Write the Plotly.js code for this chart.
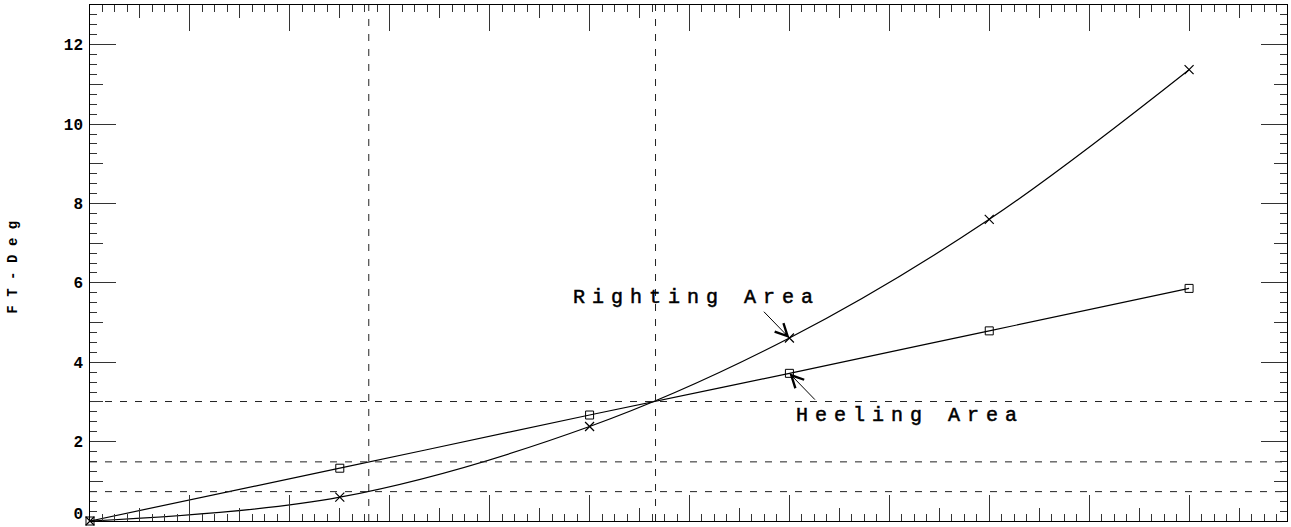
<!DOCTYPE html>
<html>
<head>
<meta charset="utf-8">
<script src="https://cdn.plot.ly/plotly-3.0.1.min.js"></script>
<style>
  html, body { margin: 0; padding: 0; background: #fff; }
  #chart { width: 1291px; height: 527px; }
  .ytick text { letter-spacing: 7px; }
  .ytitle { letter-spacing: 8.5px; }
  .annotation-text { letter-spacing: 7px; stroke: #000; stroke-width: 0.5px; }
</style>
</head>
<body>
<div id="chart"></div>
<script>
// Heel angle stations and the cumulative areas under each arm curve
const heelAngles   = [0, 25, 50, 70, 90, 110];
const rightingArea = [0, 0.60, 2.38, 4.61, 7.60, 11.37];
const heelingArea  = [0, 1.33, 2.67, 3.72, 4.79, 5.86];

// Dashed guide levels
const areaGuides  = [3.01, 1.49, 0.74];
const angleGuides = [27.9, 56.6];

// Y tick labels and where they sit (the bottom one is lifted off the frame)
const yLabelPos  = [0.2, 2, 4, 6, 8, 10, 12];
const yTickText  = ['0', '2', '4', '6', '8', '10', '12'];

const labelFont = { family: 'Liberation Mono, monospace', size: 20, color: '#000' };
const xRange = [0, 119.8];
const yRange = [0, 13];
const dashStyle = '7px,8px';

const traces = [
  {
    x: heelAngles, y: rightingArea, type: 'scatter', mode: 'lines+markers',
    name: 'Righting Area',
    line: { color: '#000', width: 1.2, shape: 'spline', smoothing: 1 },
    marker: { symbol: 'x-thin-open', size: 9, color: '#000', line: { color: '#000', width: 1.2 } },
    cliponaxis: false
  },
  {
    x: heelAngles, y: heelingArea, type: 'scatter', mode: 'lines+markers',
    name: 'Heeling Area',
    line: { color: '#000', width: 1.2, shape: 'spline', smoothing: 1 },
    marker: { symbol: 'square-open', size: 8, color: '#000', line: { color: '#000', width: 1 } },
    cliponaxis: false
  }
];

// Guide lines live on the overlaying axes so those axes are drawn
areaGuides.forEach(v => traces.push({
  x: xRange, y: [v, v], type: 'scatter', mode: 'lines', xaxis: 'x2', yaxis: 'y3',
  line: { color: '#222', width: 1, dash: dashStyle }, hoverinfo: 'skip', showlegend: false
}));
angleGuides.forEach(v => traces.push({
  x: [v, v], y: yRange, type: 'scatter', mode: 'lines', xaxis: 'x2', yaxis: 'y2',
  line: { color: '#222', width: 1, dash: dashStyle }, hoverinfo: 'skip', showlegend: false
}));

const tickColor = '#333';
const tickFont = { family: 'Liberation Mono, monospace', size: 16, color: '#000', weight: 'bold' };

const layout = {
  width: 1291, height: 527,
  margin: { l: 90, r: 4, t: 5, b: 6 },
  paper_bgcolor: '#fff', plot_bgcolor: '#fff',
  showlegend: false,
  xaxis: {
    range: xRange, showgrid: false, zeroline: false,
    showline: true, linecolor: '#000', linewidth: 1, mirror: 'ticks',
    ticks: 'inside', tick0: 0, dtick: 10, ticklen: 26, tickwidth: 1, tickcolor: tickColor,
    showticklabels: false,
    minor: { ticks: 'inside', tick0: 0, dtick: 1.25, ticklen: 7, tickwidth: 1, tickcolor: tickColor, showgrid: false }
  },
  xaxis2: {
    overlaying: 'x', anchor: 'y', range: xRange, showgrid: false, zeroline: false,
    showline: false, mirror: 'ticks',
    ticks: 'inside', tick0: 0, dtick: 5, ticklen: 13, tickwidth: 1, tickcolor: tickColor,
    showticklabels: false
  },
  yaxis: {
    range: yRange, showgrid: false, zeroline: false,
    showline: true, linecolor: '#000', linewidth: 1, mirror: 'ticks',
    ticks: 'inside', tick0: 0, dtick: 2,
    ticklen: 26, tickwidth: 1, tickcolor: tickColor,
    showticklabels: false,
    minor: { ticks: 'inside', tick0: 0, dtick: 0.25, ticklen: 7, tickwidth: 1, tickcolor: tickColor, showgrid: false },
    title: { text: 'FT-Deg', font: { family: 'Liberation Mono, monospace', size: 14, color: '#000', weight: 'bold' }, standoff: 68 }
  },
  yaxis2: {
    overlaying: 'y', anchor: 'x', range: yRange, showgrid: false, zeroline: false,
    showline: false, mirror: 'ticks',
    ticks: 'inside', tick0: 0, dtick: 1, ticklen: 13, tickwidth: 1, tickcolor: tickColor,
    showticklabels: false
  },
  yaxis3: {
    overlaying: 'y', anchor: 'x', side: 'left', range: yRange, showgrid: false, zeroline: false,
    showline: false, ticks: '',
    tickvals: yLabelPos, ticktext: yTickText, tickfont: tickFont,
    ticklabelstandoff: 6
  },
  annotations: [
    { x: 48.1, y: 5.64, xref: 'x', yref: 'y', text: 'Righting Area', showarrow: false,
      xanchor: 'left', yanchor: 'middle', font: labelFont },
    { x: 70.5, y: 2.65, xref: 'x', yref: 'y', text: 'Heeling Area', showarrow: false,
      xanchor: 'left', yanchor: 'middle', font: labelFont },
    { x: heelAngles[3], y: rightingArea[3], xref: 'x', yref: 'y', text: '',
      showarrow: true, axref: 'x', ayref: 'y', ax: 67.3, ay: 5.31,
      arrowhead: 5, arrowsize: 2.4, arrowwidth: 1, arrowcolor: '#000', standoff: 0 },
    { x: heelAngles[3], y: heelingArea[3], xref: 'x', yref: 'y', text: '',
      showarrow: true, axref: 'x', ayref: 'y', ax: 72.7, ay: 3.02,
      arrowhead: 5, arrowsize: 2.4, arrowwidth: 1, arrowcolor: '#000', standoff: 0 }
  ]
};

Plotly.newPlot('chart', traces, layout, { displayModeBar: false, staticPlot: true });
</script>
</body>
</html>
